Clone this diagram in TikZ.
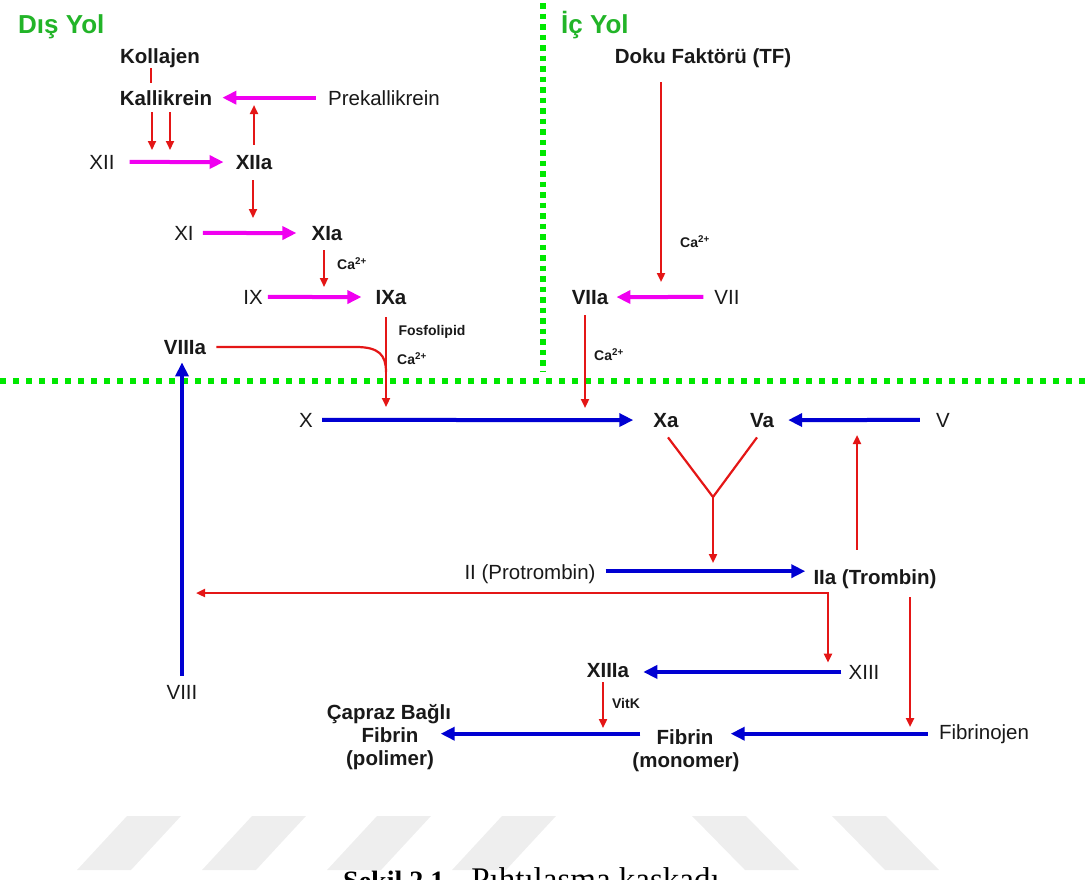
\documentclass[tikz,border=0pt]{standalone}
\usepackage{fontspec}
\setmainfont{Liberation Sans}
\newfontfamily\capfont{Liberation Serif}
\usetikzlibrary{arrows.meta,calc}
\definecolor{cred}{RGB}{228,22,22}
\definecolor{cmag}{RGB}{240,0,240}
\definecolor{cblue}{RGB}{0,0,210}
\definecolor{cgreen}{RGB}{0,232,0}
\definecolor{tgreen}{RGB}{34,180,40}
\definecolor{txt}{RGB}{25,25,25}
\definecolor{wm}{RGB}{238,238,238}
\tikzset{
  lbl/.style={inner sep=0pt, text=txt, font=\fontsize{20.5}{24}\selectfont},
  blbl/.style={inner sep=0pt, text=txt, font=\bfseries\fontsize{20.5}{24}\selectfont},
  small/.style={inner sep=0pt, text=txt, font=\bfseries\fontsize{14}{16}\selectfont},
  gtitle/.style={inner sep=0pt, text=tgreen, font=\bfseries\fontsize{26}{30}\selectfont},
  marr/.style={draw=cmag, line width=4pt, -{Triangle[length=14pt,width=13pt]}},
  barr/.style={draw=cblue, line width=4pt, -{Triangle[length=14pt,width=13pt]}},
  rline/.style={draw=cred, line width=2.2pt},
  rarr/.style={rline, -{Triangle[length=9pt,width=8pt]}},
  rboth/.style={rline, {Triangle[length=9pt,width=8pt]}-{Triangle[length=9pt,width=8pt]}},
  gdots/.style={draw=cgreen, line width=5.5pt, dash pattern=on 5.5pt off 7.5pt},
}
\begin{document}
\begin{tikzpicture}[x=1pt,y=-1pt]
\useasboundingbox (0,0) rectangle (1092,879);
\clip (0,0) rectangle (1092,879);
% watermark stripes
\foreach \bx in {77,202,327,452}{
  \fill[wm] (\bx,870) -- (\bx+54,870) -- (\bx+104,816) -- (\bx+50,816) -- cycle;
}
\foreach \tx in {692,832}{
  \fill[wm] (\tx,816) -- (\tx+54,816) -- (\tx+107,870) -- (\tx+53,870) -- cycle;
}
% green dotted separators
\draw[gdots] (0,381) -- (1092,381);
\draw[gdots, dash pattern=on 5.5pt off 5pt] (543,3) -- (543,372);
% titles
\node[gtitle, anchor=base west] (dis) at (18,33) {Dış Yol};
\node[gtitle, anchor=base west] (ic) at (561,33) {İç Yol};
% nodes
\node[blbl, anchor=base] (kol) at (160,63) {Kollajen};
\node[blbl, anchor=base] (kal) at (166,105) {Kallikrein};
\node[lbl, anchor=base] (pre) at (384,105) {Prekallikrein};
\node[lbl, anchor=base] (xii) at (102,169) {XII};
\node[blbl, anchor=base] (xiia) at (254,169) {XIIa};
\node[lbl, anchor=base] (xi) at (184,240) {XI};
\node[blbl, anchor=base] (xia) at (327,240) {XIa};
\node[lbl, anchor=base] (ix) at (253,304) {IX};
\node[blbl, anchor=base] (ixa) at (391,304) {IXa};
\node[blbl, anchor=base] (viiia) at (185,354) {VIIIa};
\node[blbl, anchor=base] (tf) at (703,63) {Doku Faktörü (TF)};
\node[blbl, anchor=base] (viia) at (590,304) {VIIa};
\node[lbl, anchor=base] (vii) at (727,304) {VII};
\node[lbl, anchor=base] (x) at (306,427) {X};
\node[blbl, anchor=base] (xa) at (666,427) {Xa};
\node[blbl, anchor=base] (va) at (762,427) {Va};
\node[lbl, anchor=base] (v) at (943,427) {V};
\node[lbl, anchor=base] (ii) at (530,579) {II (Protrombin)};
\node[blbl, anchor=base] (iia) at (875,584) {IIa (Trombin)};
\node[lbl, anchor=base] (viii) at (182,699) {VIII};
\node[blbl, anchor=base] (xiiia) at (608,677) {XIIIa};
\node[lbl, anchor=base] (xiii) at (864,679) {XIII};
\node[lbl, anchor=base] (fgen) at (984,739) {Fibrinojen};
\node[blbl, anchor=base] (cap1) at (389,719) {Çapraz Bağlı};
\node[blbl, anchor=base] (cap2) at (390,742) {Fibrin};
\node[blbl, anchor=base] (cap3) at (390,765) {(polimer)};
\node[blbl, anchor=base] (fib1) at (685,744) {Fibrin};
\node[blbl, anchor=base] (fib2) at (686,767) {(monomer)};
% small labels
\node[small] (ca1) at (352,264) {Ca\textsuperscript{2+}};
\node[small] (fos) at (432,332) {Fosfolipid};
\node[small] (ca2) at (412,359) {Ca\textsuperscript{2+}};
\node[small] (ca3) at (695,242) {Ca\textsuperscript{2+}};
\node[small] (ca4) at (609,355) {Ca\textsuperscript{2+}};
\node[small] (vitk) at (626,703) {VitK};
% guide coordinates
\coordinate (g151) at (151,0);
\coordinate (t1) at (152,150);
\coordinate (t2) at (170,150);
\coordinate (u1) at (254,105);
\coordinate (d1) at (253,218);
\coordinate (d2) at (324,287);
\coordinate (d3) at (386,407);
\coordinate (c1) at (356,347);
\coordinate (c4) at (386,372);
\coordinate (d4) at (661,282);
\coordinate (d5) at (585,408);
\coordinate (yj) at (713,497);
\coordinate (yt) at (713,563);
\coordinate (u2) at (857,435);
\coordinate (fl) at (196,593);
\coordinate (fc) at (828,593);
\coordinate (d6) at (910,727);
\coordinate (d7) at (603,728);
% upper-left cascade
\draw[rline, shorten <=1pt, shorten >=7pt] (kol.south -| g151) -- (kal.north -| g151);
\draw[rarr] ([yshift=-7pt]kal.south -| t1) -- (t1);
\draw[rarr] ([yshift=-7pt]kal.south -| t2) -- (t2);
\draw[marr, shorten <=12pt, shorten >=10pt] (pre.west) -- (kal.east);
\draw[rarr, shorten <=10pt] (xiia.north) -- (u1);
\draw[marr, shorten <=15pt, shorten >=12pt] (xii.east) -- (xiia.west);
\draw[rarr, shorten <=11pt] (xiia.south -| d1) -- (d1);
\draw[marr, shorten <=9pt, shorten >=15pt] (xi.east) -- (xia.west);
\draw[rarr, shorten <=10pt] (xia.south -| d2) -- (d2);
\draw[marr, shorten <=5pt, shorten >=14pt] (ix.east) -- (ixa.west);
\draw[rarr, shorten <=13pt] (ixa.south -| d3) -- (d3);
\draw[rline, shorten <=10pt] (viiia.east) -- (c1) .. controls (379,347) and (386,355) .. (c4);
\draw[barr, shorten <=9pt, shorten >=8pt] (viii.north) -- (viii.north |- viiia.south);
% right upper
\draw[rarr, shorten <=15pt] (tf.south -| d4) -- (d4);
\draw[marr, shorten <=11pt, shorten >=8pt] (vii.west) -- (viia.east);
\draw[rarr, shorten <=11pt] (viia.south -| d5) -- (d5);
% common pathway
\draw[barr, shorten <=9pt, shorten >=20pt] (x.east) -- (xa.west);
\draw[barr, shorten <=16pt, shorten >=14pt] (v.west) -- (va.east);
\draw[rline] ($(xa.south)+(2,10)$) -- (yj) -- ($(va.south)+(-5,10)$);
\draw[rarr] (yj) -- (yt);
\draw[barr, shorten <=10pt, shorten >=8pt] ([yshift=2.5pt]ii.east) -- ([yshift=2.5pt]ii.east -| iia.west);
\draw[rarr, shorten <=19pt] (iia.north -| u2) -- (u2);
\draw[rboth, shorten >=2pt] (fl) -| (xiii.north -| fc);
\draw[barr, shorten <=7pt, shorten >=14pt] (xiii.west) -- (xiii.west -| xiiia.east);
\draw[rarr, shorten <=9pt] (iia.south -| d6) -- (d6);
\draw[rarr, shorten <=5pt] (xiiia.south -| d7) -- (d7);
\draw[barr, shorten <=11pt, shorten >=17pt] (fgen.west) -- (fgen.west -| fib1.east);
\draw[barr, shorten <=16pt, shorten >=22pt] (fgen.west -| fib1.west) -- (fgen.west -| cap2.east);
% caption (cut by the page edge, as in the reference)
\node[anchor=base west, inner sep=0pt, text=black, font=\capfont\fontsize{28}{32}\selectfont] (cap) at (343,890) {\textbf{Şekil 2.1.}\hspace{20pt}{\fontsize{33}{36}\selectfont Pıhtılaşma kaskadı}};
\end{tikzpicture}
\end{document}
